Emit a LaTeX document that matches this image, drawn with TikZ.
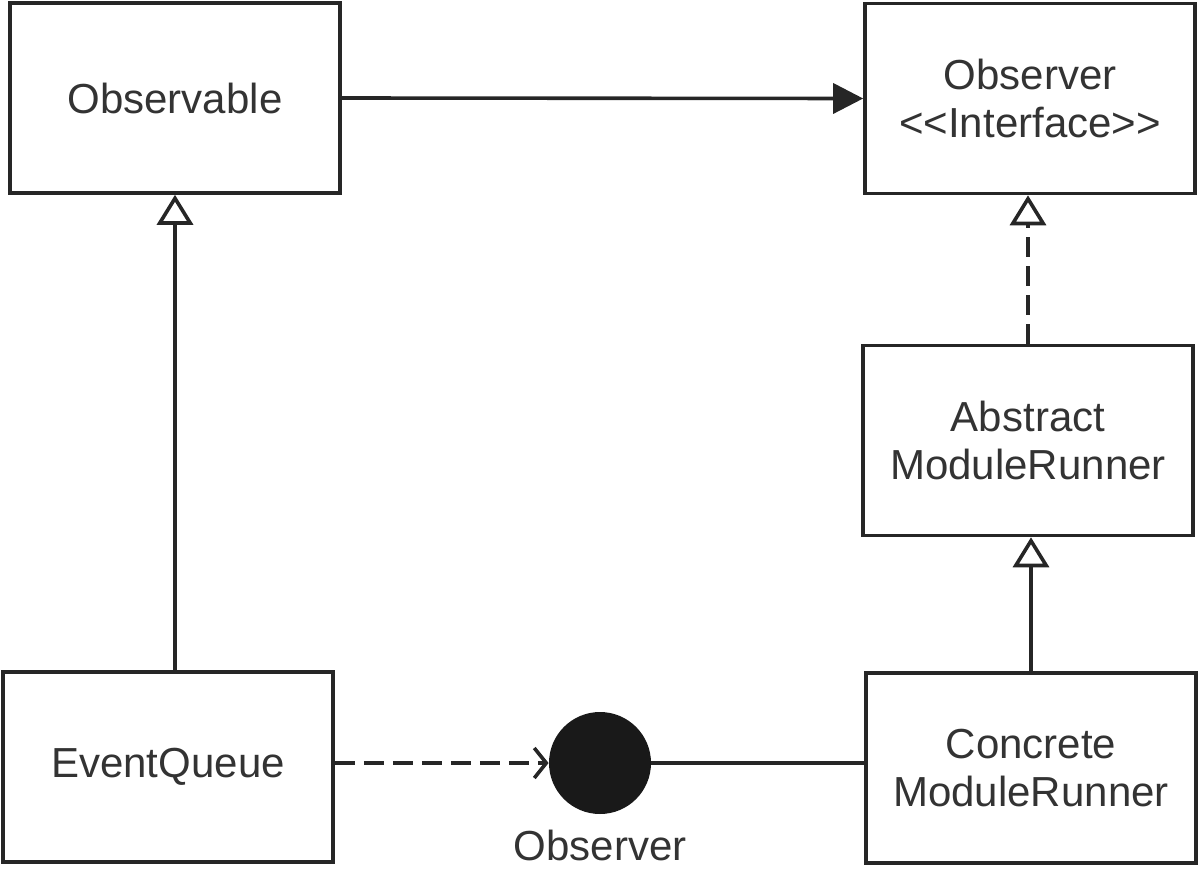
\documentclass[tikz,border=0pt]{standalone}
\usepackage{fontspec}
\setmainfont{Liberation Sans}
\usetikzlibrary{arrows.meta}
\begin{document}
\begin{tikzpicture}[x=0.5pt,y=-0.5pt,
  cls/.style={draw=black!85, line width=1.8pt, rectangle, inner sep=0pt,
    minimum width=165pt, minimum height=95pt, align=center,
    font=\fontsize{21}{24}\selectfont, text=black!80},
  conn/.style={draw=black!85, line width=1.8pt},
  dashline/.style={dash pattern=on 10pt off 4.5pt},
  gen/.style={-{Triangle[open, length=15pt, width=18pt, line width=1.8pt]}},
  assoc/.style={-{Triangle[length=15pt, width=15pt]}},
  dep/.style={-{Straight Barb[length=6pt, width=15pt, line width=1.8pt]}}
]
\useasboundingbox (0,0) rectangle (1200,868);
\node[cls] (obs) at (175,98) {Observable};
\node[cls] (ifc) at (1030,98.5) {Observer\\<\kern0pt<Interface>\kern0pt>};
\node[cls] (abs) at (1028,440.5) {Abstract\\ModuleRunner};
\node[cls] (con) at (1031,768) {Concrete\\ModuleRunner};
\node[cls] (eq) at (168,767) {EventQueue};
\node[circle, fill=black!90, minimum size=51pt, inner sep=0pt] (ball) at (600,763) {};
\node[font=\fontsize{21}{24}\selectfont, text=black!80, anchor=base] (balllbl) at (600,860) {Observer};

\draw[conn, assoc] (obs.east) -- (ifc.west);
\draw[conn, gen] (obs.south |- eq.north) -- (obs.south);
\draw[conn, dashline, gen] (abs.north) -- (ifc.south -| abs.north);
\draw[conn, gen] (con.north) -- (abs.south -| con.north);
\draw[conn, dashline, dep] (eq.east |- ball.west) -- (ball.west);
\draw[conn] (ball.east) -- (con.west |- ball.east);
\end{tikzpicture}
\end{document}
